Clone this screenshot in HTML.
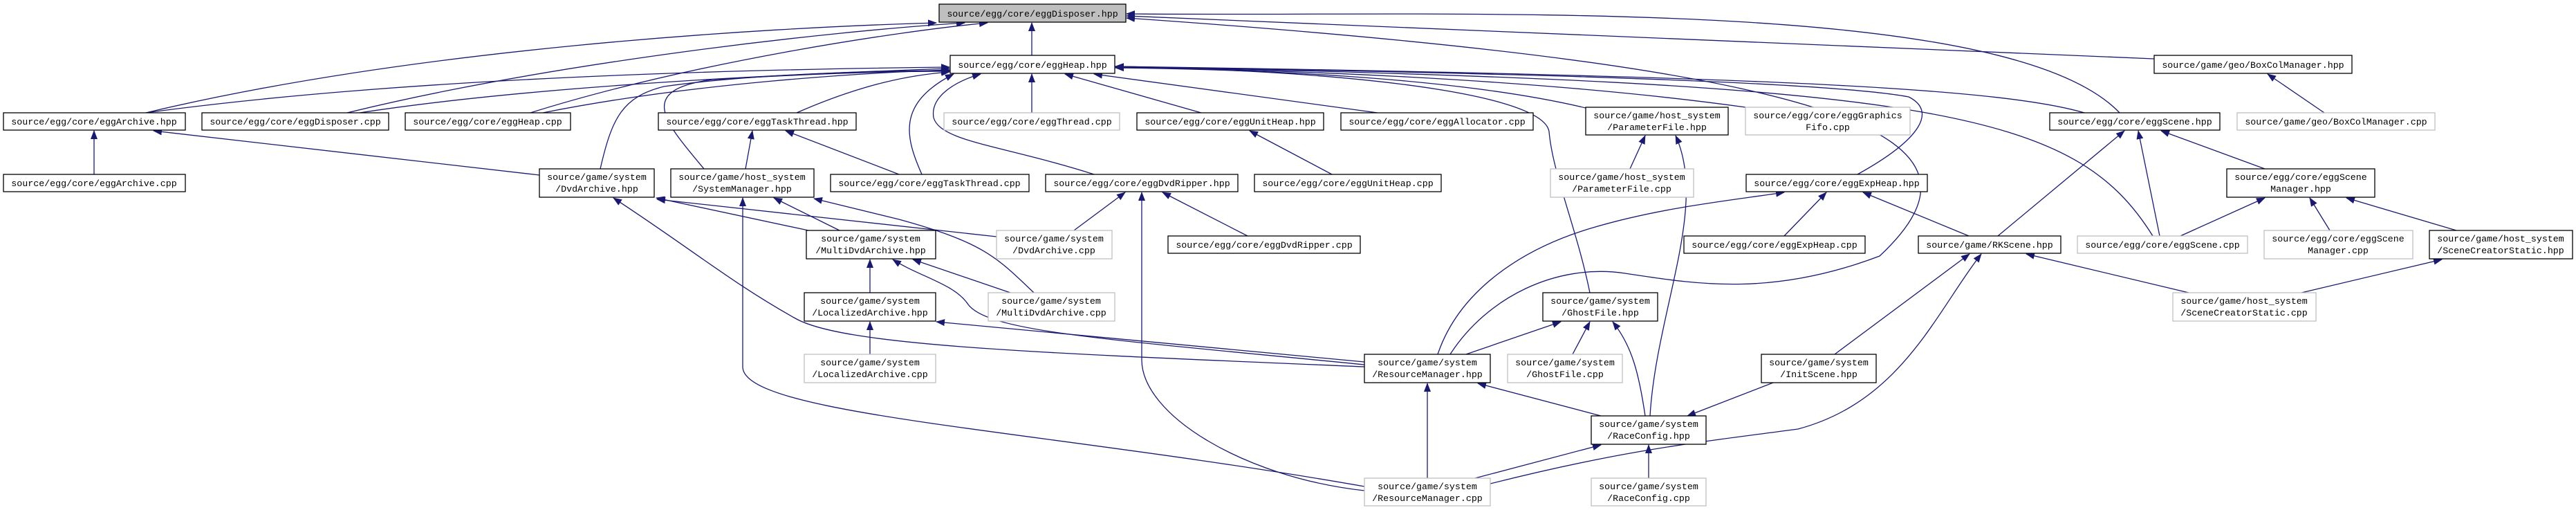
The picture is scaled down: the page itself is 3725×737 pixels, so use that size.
<!DOCTYPE html>
<html><head><meta charset="utf-8"><style>
html,body{margin:0;padding:0;background:#fff;}
svg{display:block;}
text{font-family:"Liberation Mono",monospace;font-size:13.3px;fill:#000;}
.e{fill:none;stroke:#191970;stroke-width:1.3;marker-end:url(#a);}
.n{fill:#fff;stroke:#000;stroke-width:1.3;}
.g{fill:#fff;stroke:#bfbfbf;stroke-width:1.3;}
</style></head><body>
<svg width="3725" height="737" viewBox="0 0 3725 737" xmlns="http://www.w3.org/2000/svg">
<defs><marker id="a" markerUnits="userSpaceOnUse" markerWidth="14" markerHeight="10" refX="12" refY="5" orient="auto"><path d="M0,0 L13,5 L0,10 Z" fill="#191970"/></marker></defs>
<g>
<path class="e" d="M1492,80 L1492,33"/>
<path class="e" d="M211,163 C600,70 1100,40 1354,33"/>
<path class="e" d="M502,163 C800,90 1200,45 1395,33"/>
<path class="e" d="M767,163 C1000,90 1300,45 1428,33"/>
<path class="e" d="M3065,163 C2900,-10 2100,25 1629,20"/>
<path class="e" d="M3115,85 L1629,23"/>
<path class="e" d="M2097,512 C2150,430 2250,380 2350,395 C2450,410 2560,430 2718,370 C2900,200 2700,100 1629,26"/>
<path class="e" d="M211,163 C600,110 1100,100 1373,97"/>
<path class="e" d="M520,163 C800,120 1200,105 1373,99"/>
<path class="e" d="M785,163 C1000,120 1250,105 1373,101"/>
<path class="e" d="M1152,163 C1250,120 1320,108 1373,104"/>
<path class="e" d="M868,244 C885,170 900,140 960,125 C1100,105 1300,102 1373,102"/>
<path class="e" d="M1018,244 C960,175 920,130 1030,115 C1200,105 1300,103 1373,103"/>
<path class="e" d="M1333,252 C1310,200 1295,150 1379,107"/>
<path class="e" d="M1582,252 C1450,210 1360,205 1350,170 C1345,140 1380,118 1418,107"/>
<path class="e" d="M1492,163 L1492,107"/>
<path class="e" d="M1737,163 L1540,107"/>
<path class="e" d="M1992,163 L1582,107"/>
<path class="e" d="M2293,156 C2100,110 1800,100 1613,98"/>
<path class="e" d="M2524,155 C2200,110 1800,100 1613,97"/>
<path class="e" d="M3014,163 C2900,130 2600,110 1613,96"/>
<path class="e" d="M2686,252 C2780,200 2800,160 2760,140 C2600,110 1800,100 1613,96"/>
<path class="e" d="M3113,341 C3000,160 2800,120 1613,96"/>
<path class="e" d="M2299,423 C2280,330 2245,250 2240,190 C2230,130 1900,100 1613,97"/>
<path class="e" d="M136,252 L136,189"/>
<path class="e" d="M780,253 L222,189"/>
<path class="e" d="M1078,244 L1088,189"/>
<path class="e" d="M1300,252 L1136,189"/>
<path class="e" d="M1926,252 L1807,189"/>
<path class="e" d="M2357,244 L2379,196"/>
<path class="e" d="M2386,601 C2395,450 2470,300 2423,196"/>
<path class="e" d="M3361,163 L3279,107"/>
<path class="e" d="M2889,341 L3072,189"/>
<path class="e" d="M3123,341 L3092,189"/>
<path class="e" d="M3275,244 L3125,189"/>
<path class="e" d="M3153,341 L3275,286"/>
<path class="e" d="M3369,333 L3340,286"/>
<path class="e" d="M3552,333 L3393,286"/>
<path class="e" d="M2580,341 L2641,278"/>
<path class="e" d="M2847,341 L2694,278"/>
<path class="e" d="M2079,512 C2110,420 2200,360 2300,330 C2400,300 2500,290 2580,278"/>
<path class="e" d="M1553,333 L1627,278"/>
<path class="e" d="M1804,341 L1681,278"/>
<path class="e" d="M1973,709 C1800,690 1651,600 1651,520 L1651,278"/>
<path class="e" d="M1169,333 L949,286"/>
<path class="e" d="M1441,342 L950,288"/>
<path class="e" d="M1973,530 C1500,510 1220,500 1150,460 C1060,410 1000,360 887,286"/>
<path class="e" d="M1214,333 L1119,286"/>
<path class="e" d="M1495,423 C1440,370 1420,350 1300,317 L1177,287"/>
<path class="e" d="M1973,703 C1500,620 1074,600 1074,530 L1074,286"/>
<path class="e" d="M1258,423 L1258,375"/>
<path class="e" d="M1258,512 L1258,465"/>
<path class="e" d="M1461,423 L1320,375"/>
<path class="e" d="M1973,527 C1600,490 1430,480 1400,440 C1380,410 1330,400 1291,375"/>
<path class="e" d="M1973,523 L1354,465"/>
<path class="e" d="M2120,512 L2257,465"/>
<path class="e" d="M2274,512 L2299,465"/>
<path class="e" d="M2379,601 C2370,540 2360,500 2332,465"/>
<path class="e" d="M2064,691 L2064,554"/>
<path class="e" d="M2315,601 L2137,554"/>
<path class="e" d="M2133,691 L2315,643"/>
<path class="e" d="M2384,691 L2384,643"/>
<path class="e" d="M2564,553 L2440,601"/>
<path class="e" d="M2653,512 L2848,367"/>
<path class="e" d="M2155,699 C2350,650 2450,640 2600,620 C2750,580 2800,450 2865,367"/>
<path class="e" d="M3165,423 L2930,367"/>
<path class="e" d="M3328,423 L3531,375"/>
</g>
<g>
<rect x="1358" y="6" width="270" height="26" fill="#bfbfbf" stroke="#000" stroke-width="1.3"/><text x="1493" y="24" text-anchor="middle">source/egg/core/eggDisposer.hpp</text>
<rect class="n" x="1374" y="80" width="238" height="26"/><text x="1493" y="98" text-anchor="middle">source/egg/core/eggHeap.hpp</text>
<rect class="n" x="5" y="163" width="263" height="25"/><text x="136" y="180" text-anchor="middle">source/egg/core/eggArchive.hpp</text>
<rect class="n" x="292" y="163" width="270" height="25"/><text x="427" y="180" text-anchor="middle">source/egg/core/eggDisposer.cpp</text>
<rect class="n" x="586" y="163" width="239" height="25"/><text x="705" y="180" text-anchor="middle">source/egg/core/eggHeap.cpp</text>
<rect class="n" x="952" y="163" width="286" height="25"/><text x="1095" y="180" text-anchor="middle">source/egg/core/eggTaskThread.hpp</text>
<rect class="g" x="1365" y="163" width="254" height="25"/><text x="1492" y="180" text-anchor="middle">source/egg/core/eggThread.cpp</text>
<rect class="n" x="1644" y="163" width="270" height="25"/><text x="1779" y="180" text-anchor="middle">source/egg/core/eggUnitHeap.hpp</text>
<rect class="n" x="1939" y="163" width="278" height="25"/><text x="2078" y="180" text-anchor="middle">source/egg/core/eggAllocator.cpp</text>
<rect class="n" x="2293" y="155" width="206" height="40"/><text x="2396" y="171" text-anchor="middle">source/game/host_system</text><text x="2396" y="188" text-anchor="middle">/ParameterFile.hpp</text>
<rect class="g" x="2524" y="155" width="238" height="40"/><text x="2643" y="171" text-anchor="middle">source/egg/core/eggGraphics</text><text x="2643" y="188" text-anchor="middle">Fifo.cpp</text>
<rect class="n" x="2964" y="163" width="246" height="25"/><text x="3087" y="180" text-anchor="middle">source/egg/core/eggScene.hpp</text>
<rect class="n" x="3115" y="80" width="286" height="26"/><text x="3258" y="98" text-anchor="middle">source/game/geo/BoxColManager.hpp</text>
<rect class="g" x="3235" y="163" width="286" height="25"/><text x="3378" y="180" text-anchor="middle">source/game/geo/BoxColManager.cpp</text>
<rect class="n" x="5" y="252" width="263" height="25"/><text x="136" y="269" text-anchor="middle">source/egg/core/eggArchive.cpp</text>
<rect class="n" x="780" y="244" width="166" height="41"/><text x="863" y="260" text-anchor="middle">source/game/system</text><text x="863" y="277" text-anchor="middle">/DvdArchive.hpp</text>
<rect class="n" x="970" y="244" width="207" height="41"/><text x="1073" y="260" text-anchor="middle">source/game/host_system</text><text x="1073" y="277" text-anchor="middle">/SystemManager.hpp</text>
<rect class="n" x="1201" y="252" width="287" height="25"/><text x="1344" y="269" text-anchor="middle">source/egg/core/eggTaskThread.cpp</text>
<rect class="n" x="1512" y="252" width="278" height="25"/><text x="1651" y="269" text-anchor="middle">source/egg/core/eggDvdRipper.hpp</text>
<rect class="n" x="1814" y="252" width="270" height="25"/><text x="1949" y="269" text-anchor="middle">source/egg/core/eggUnitHeap.cpp</text>
<rect class="g" x="2242" y="244" width="207" height="41"/><text x="2345" y="260" text-anchor="middle">source/game/host_system</text><text x="2345" y="277" text-anchor="middle">/ParameterFile.cpp</text>
<rect class="n" x="2525" y="252" width="262" height="25"/><text x="2656" y="269" text-anchor="middle">source/egg/core/eggExpHeap.hpp</text>
<rect class="n" x="3220" y="244" width="214" height="41"/><text x="3327" y="260" text-anchor="middle">source/egg/core/eggScene</text><text x="3327" y="277" text-anchor="middle">Manager.hpp</text>
<rect class="n" x="1166" y="333" width="187" height="41"/><text x="1259" y="349" text-anchor="middle">source/game/system</text><text x="1259" y="366" text-anchor="middle">/MultiDvdArchive.hpp</text>
<rect class="g" x="1441" y="333" width="167" height="41"/><text x="1524" y="349" text-anchor="middle">source/game/system</text><text x="1524" y="366" text-anchor="middle">/DvdArchive.cpp</text>
<rect class="n" x="1689" y="341" width="278" height="25"/><text x="1828" y="358" text-anchor="middle">source/egg/core/eggDvdRipper.cpp</text>
<rect class="n" x="2435" y="341" width="262" height="25"/><text x="2566" y="358" text-anchor="middle">source/egg/core/eggExpHeap.cpp</text>
<rect class="n" x="2774" y="341" width="206" height="25"/><text x="2877" y="358" text-anchor="middle">source/game/RKScene.hpp</text>
<rect class="g" x="3004" y="341" width="246" height="25"/><text x="3127" y="358" text-anchor="middle">source/egg/core/eggScene.cpp</text>
<rect class="g" x="3274" y="333" width="215" height="41"/><text x="3381" y="349" text-anchor="middle">source/egg/core/eggScene</text><text x="3381" y="366" text-anchor="middle">Manager.cpp</text>
<rect class="n" x="3513" y="333" width="207" height="41"/><text x="3616" y="349" text-anchor="middle">source/game/host_system</text><text x="3616" y="366" text-anchor="middle">/SceneCreatorStatic.hpp</text>
<rect class="n" x="1163" y="423" width="190" height="41"/><text x="1258" y="439" text-anchor="middle">source/game/system</text><text x="1258" y="456" text-anchor="middle">/LocalizedArchive.hpp</text>
<rect class="g" x="1429" y="423" width="183" height="41"/><text x="1520" y="439" text-anchor="middle">source/game/system</text><text x="1520" y="456" text-anchor="middle">/MultiDvdArchive.cpp</text>
<rect class="n" x="2231" y="423" width="166" height="41"/><text x="2314" y="439" text-anchor="middle">source/game/system</text><text x="2314" y="456" text-anchor="middle">/GhostFile.hpp</text>
<rect class="g" x="3142" y="423" width="207" height="41"/><text x="3245" y="439" text-anchor="middle">source/game/host_system</text><text x="3245" y="456" text-anchor="middle">/SceneCreatorStatic.cpp</text>
<rect class="g" x="1163" y="512" width="190" height="41"/><text x="1258" y="528" text-anchor="middle">source/game/system</text><text x="1258" y="545" text-anchor="middle">/LocalizedArchive.cpp</text>
<rect class="n" x="1973" y="512" width="182" height="41"/><text x="2064" y="528" text-anchor="middle">source/game/system</text><text x="2064" y="545" text-anchor="middle">/ResourceManager.hpp</text>
<rect class="g" x="2180" y="512" width="166" height="41"/><text x="2263" y="528" text-anchor="middle">source/game/system</text><text x="2263" y="545" text-anchor="middle">/GhostFile.cpp</text>
<rect class="n" x="2547" y="512" width="166" height="41"/><text x="2630" y="528" text-anchor="middle">source/game/system</text><text x="2630" y="545" text-anchor="middle">/InitScene.hpp</text>
<rect class="n" x="2301" y="601" width="166" height="41"/><text x="2384" y="617" text-anchor="middle">source/game/system</text><text x="2384" y="634" text-anchor="middle">/RaceConfig.hpp</text>
<rect class="g" x="1973" y="691" width="182" height="40"/><text x="2064" y="707" text-anchor="middle">source/game/system</text><text x="2064" y="724" text-anchor="middle">/ResourceManager.cpp</text>
<rect class="g" x="2301" y="691" width="166" height="40"/><text x="2384" y="707" text-anchor="middle">source/game/system</text><text x="2384" y="724" text-anchor="middle">/RaceConfig.cpp</text>
</g>
</svg>
</body></html>
